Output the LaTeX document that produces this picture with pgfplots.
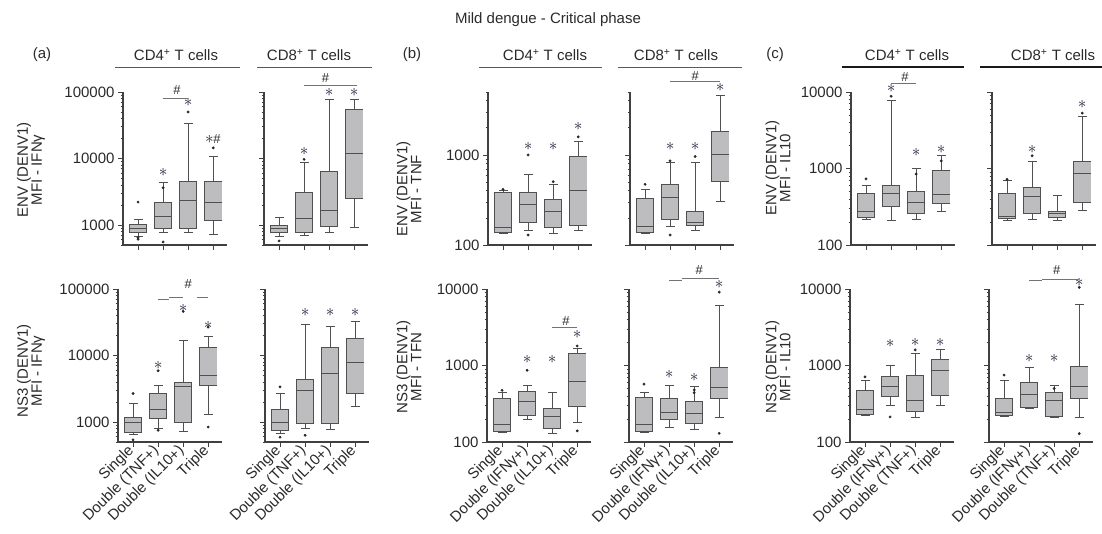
\documentclass[border=0pt]{standalone}
\usepackage{fontspec}
\setmainfont{Liberation Sans}
\usepackage{pgfplots}
\pgfplotsset{compat=1.18}

\definecolor{boxfill}{HTML}{BDBDC0}
\definecolor{boxline}{HTML}{505050}
\definecolor{axc}{HTML}{404040}
\definecolor{txt}{HTML}{2A2A2A}
\definecolor{starc}{HTML}{22223A}

\newcommand{\fs}{\fontsize{15}{15}\selectfont}

\pgfplotsset{
 panel/.style={
  scale only axis, width=104pt, height=153pt,
  xmin=0.4, xmax=4.55,
  axis x line*=bottom, axis y line*=left,
  axis line style={draw=axc, line width=1.1pt},
  tick align=outside, major tick length=5pt, minor tick length=2.5pt,
  tick style={draw=axc, line width=0.7pt},
  xtick={1,2,3,4}, xticklabels={},
  tick label style={font=\fs, text=txt},
  clip=false,
 },
 ra/.style={ymin=500, ymax=100000, ytick={1000,10000,100000},
   minor ytick={500,600,700,800,900,2000,3000,4000,5000,6000,7000,8000,9000,20000,30000,40000,50000,60000,70000,80000,90000}},
 rb/.style={ymin=100, ymax=5000, ytick={100,1000},
   minor ytick={200,300,400,500,600,700,800,900,2000,3000,4000,5000}},
 rc/.style={ymin=100, ymax=10000, ytick={100,1000,10000},
   minor ytick={200,300,400,500,600,700,800,900,2000,3000,4000,5000,6000,7000,8000,9000}},
 la/.style={yticklabels={1000,10000,100000}},
 lb/.style={yticklabels={100,1000}},
 lc/.style={yticklabels={100,1000,10000}},
 noy/.style={yticklabels={}},
 xl/.style={xticklabel style={rotate=45, anchor=east, inner sep=2pt}},
}

\newcommand{\bx}[7]{%
 \addplot[draw=boxline, line width=18pt, no marks] coordinates {(#1,#3)(#1,#5)};
 \addplot[draw=boxfill, line width=16.6pt, no marks] coordinates {(#1,#3)(#1,#5)};
 \addplot[draw=boxline, line width=0.7pt, mark=-, mark size=4.5pt, mark options={solid}] coordinates {(#1,#2)(#1,#3)};
 \addplot[draw=boxline, line width=0.7pt, mark=-, mark size=4.5pt, mark options={solid}] coordinates {(#1,#5)(#1,#6)};
 \addplot[only marks, mark=-, mark size=9pt, mark options={draw=boxline, line width=0.7pt}] coordinates {(#1,#3)(#1,#5)};
 \addplot[only marks, mark=-, mark size=9pt, mark options={draw=boxline, line width=1pt}] coordinates {(#1,#4)};
 \if\relax\detokenize{#7}\relax\else
 \addplot[only marks, mark=*, mark size=1.2pt, mark options={fill=black!85, draw=black!85}] coordinates {#7};
 \fi
}
\newcommand{\st}[2]{\node[font=\fontsize{16}{16}\selectfont, text=starc, inner sep=0pt] at (axis cs:#1,#2) {$\ast$};}
\newcommand{\hs}[2]{\node[font=\fontsize{13}{13}\selectfont, text=txt, inner sep=0pt] at (axis cs:#1,#2) {\#};}
\newcommand{\br}[3]{\draw[draw=black!55, line width=0.6pt] (axis cs:#1,#3) -- (axis cs:#2,#3);}

\begin{document}
\begin{tikzpicture}
% ---------- (a) top CD4
\begin{axis}[ymode=log, panel, ra, la, at={(123pt,288pt)}, anchor=south west]
\bx{1}{668}{767}{881}{1023}{1216}{(1,2213)(1,645)(1,610)}
\bx{2}{767}{881}{1334}{2213}{4410}{(2,3630)(2,556)}
\bx{3}{767}{881}{2371}{4570}{34276}{(3,50000)}
\bx{4}{724}{1175}{2213}{4570}{10840}{(4,14450)}
\st{2}{6100} \st{3}{70000} \st{3.85}{19300} \hs{4.15}{19300}
\br{2}{3}{79400} \hs{2.55}{108000}
\end{axis}
% ---------- (a) top CD8
\begin{axis}[ymode=log, panel, ra, noy, at={(264pt,288pt)}, anchor=south west]
\bx{1}{684}{785}{881}{990}{1288}{(1,575)}
\bx{2}{700}{785}{1259}{3126}{8610}{(2,9700)}
\bx{3}{767}{944}{1679}{6457}{76700}{}
\bx{4}{912}{2483}{11885}{54330}{76700}{}
\st{2}{12900} \st{3}{100000} \st{4}{100000}
\br{2}{4.1}{128000} \hs{2.85}{160000}
\end{axis}
% ---------- (a) bottom CD4
\begin{axis}[ymode=log, panel, ra, la, xl, at={(118pt,91pt)}, anchor=south west,
  xticklabels={Single, Double (TNF+), Double (IL10+), Triple}]
\bx{1}{650}{707}{977}{1190}{1937}{(1,2680)(1,540)}
\bx{2}{793}{1150}{1554}{2740}{3580}{(2,5900)(2,750)}
\bx{3}{731}{1000}{3390}{3890}{17140}{(3,46000)}
\bx{4}{1306}{3580}{5070}{13280}{19300}{(4,840)(4,26800)}
\st{2}{7180} \st{3}{51600} \st{4}{28500}
\br{2}{2.45}{70600} \br{2.45}{3}{75800} \br{3.55}{4}{75800} \hs{3.2}{117000}
\end{axis}
% ---------- (a) bottom CD8
\begin{axis}[ymode=log, panel, ra, noy, xl, at={(265pt,91pt)}, anchor=south west,
  xticklabels={Single, Double (TNF+), Double (IL10+), Triple}]
\bx{1}{682}{748}{966}{1535}{2680}{(1,3380)(1,590)}
\bx{2}{793}{944}{3010}{4370}{28900}{(2,630)}
\bx{3}{766}{965}{5370}{13280}{27900}{}
\bx{4}{1690}{2680}{7770}{17800}{32400}{}
\st{2}{44000} \st{3}{44000} \st{4}{44000}
\end{axis}
% ---------- (b) top CD4
\begin{axis}[ymode=log, panel, rb, lb, at={(488pt,288pt)}, anchor=south west]
\bx{1}{133}{138}{156}{382}{400}{(1,415)}
\bx{2}{147}{177}{283}{382}{610}{(2,129)(2,1000)}
\bx{3}{135}{157}{235}{325}{472}{(3,505)}
\bx{4}{144}{164}{398}{977}{1430}{(4,1590)}
\st{2}{1230} \st{3}{1230} \st{4}{2050}
\end{axis}
% ---------- (b) top CD8
\begin{axis}[ymode=log, panel, rb, noy, at={(630pt,288pt)}, anchor=south west]
\bx{1}{135}{138}{160}{330}{415}{(1,472)}
\bx{2}{160}{193}{339}{472}{822}{(2,129)(2,860)}
\bx{3}{147}{167}{177}{239}{822}{(3,960)}
\bx{4}{308}{514}{1000}{1850}{4640}{}
\st{2}{1230} \st{3}{1230} \st{4}{5640}
\br{2}{4}{6530} \hs{3}{7570}
\end{axis}
% ---------- (b) bottom CD4
\begin{axis}[ymode=log, panel, rc, lc, xl, at={(487pt,91pt)}, anchor=south west,
  xticklabels={Single, Double (IFNγ+), Double (IL10+), Triple}]
\bx{1}{132}{136}{168}{377}{441}{(1,474)}
\bx{2}{196}{224}{336}{464}{553}{(2,865)}
\bx{3}{130}{151}{218}{274}{441}{}
\bx{4}{181}{291}{627}{1440}{1700}{(4,140)(4,1800)}
\st{2}{1200} \st{3}{1200} \st{4}{2540}
\br{3}{4}{3160} \hs{3.55}{3800}
\end{axis}
% ---------- (b) bottom CD8
\begin{axis}[ymode=log, panel, rc, noy, xl, at={(629pt,91pt)}, anchor=south west,
  xticklabels={Single, Double (IFNγ+), Double (IL10+), Triple}]
\bx{1}{132}{136}{168}{385}{441}{(1,571)}
\bx{2}{156}{196}{246}{377}{553}{}
\bx{3}{147}{177}{234}{336}{526}{(3,441)(3,480)}
\bx{4}{207}{373}{509}{948}{6140}{(4,130)(4,9100)}
\st{2}{757} \st{3}{700} \st{4}{11500}
\br{2}{2.5}{13000} \br{2.5}{4}{13800} \hs{3.2}{17800}
\end{axis}
% ---------- (c) top CD4
\begin{axis}[ymode=log, panel, rc, lc, at={(851pt,288pt)}, anchor=south west]
\bx{1}{217}{228}{270}{477}{611}{(1,731)}
\bx{2}{211}{323}{477}{611}{7730}{(2,8800)}
\bx{3}{217}{257}{357}{501}{1000}{(3,848)}
\bx{4}{278}{347}{454}{937}{1466}{(4,1260)}
\st{2}{11000} \st{3}{1620} \st{4}{1750}
\br{2}{3}{13100} \hs{2.55}{15900}
\end{axis}
% ---------- (c) top CD8
\begin{axis}[ymode=log, panel, rc, noy, at={(992pt,288pt)}, anchor=south west]
\bx{1}{211}{222}{238}{477}{695}{(1,720)}
\bx{2}{217}{257}{431}{570}{1227}{(2,1466)}
\bx{3}{211}{228}{257}{278}{444}{}
\bx{4}{284}{364}{865}{1227}{4840}{(4,5300)}
\st{2}{1750} \st{4}{6850}
\end{axis}
% ---------- (c) bottom CD4
\begin{axis}[ymode=log, panel, rc, lc, xl, at={(850pt,91pt)}, anchor=south west,
  xticklabels={Single, Double (IFNγ+), Double (TNF+), Triple}]
\bx{1}{224}{231}{266}{477}{645}{(1,710)}
\bx{2}{302}{398}{527}{713}{1016}{(2,213)}
\bx{3}{213}{248}{345}{750}{1445}{(3,1600)}
\bx{4}{302}{402}{871}{1217}{1650}{}
\st{2}{1950} \st{3}{2000} \st{4}{2000}
\end{axis}
% ---------- (c) bottom CD8
\begin{axis}[ymode=log, panel, rc, noy, xl, at={(989pt,91pt)}, anchor=south west,
  xticklabels={Single, Double (IFNγ+), Double (TNF+), Triple}]
\bx{1}{217}{224}{240}{371}{645}{(1,750)}
\bx{2}{274}{282}{418}{595}{935}{}
\bx{3}{213}{219}{345}{440}{554}{(3,500)}
\bx{4}{213}{371}{527}{966}{6220}{(4,129)(4,10500)}
\st{2}{1240} \st{3}{1240} \st{4}{12000}
\br{2}{2.5}{12800} \br{2.5}{4}{13500} \hs{3.1}{17600}
\end{axis}

% ---------- titles, headers, y labels
\begin{scope}[every node/.style={font=\fs, text=txt}]
\node at (548pt,513pt) {Mild dengue - Critical phase};
\node at (42pt,478pt) {(a)};
\node at (412pt,478pt) {(b)};
\node at (775pt,478pt) {(c)};
\node at (176pt,478pt) {CD4\textsuperscript{+} T cells};
\node at (309pt,478pt) {CD8\textsuperscript{+} T cells};
\node at (545pt,478pt) {CD4\textsuperscript{+} T cells};
\node at (676pt,478pt) {CD8\textsuperscript{+} T cells};
\node at (907pt,478pt) {CD4\textsuperscript{+} T cells};
\node at (1053pt,478pt) {CD8\textsuperscript{+} T cells};
\draw[draw=black!65, line width=0.9pt] (115pt,466pt) -- (240pt,466pt);
\draw[draw=black!65, line width=0.9pt] (257pt,466pt) -- (372pt,466pt);
\draw[draw=black!65, line width=0.9pt] (479pt,466pt) -- (602pt,466pt);
\draw[draw=black!65, line width=0.9pt] (618pt,466pt) -- (742pt,466pt);
\draw[draw=black!90, line width=2.4pt] (842pt,466pt) -- (964pt,466pt);
\draw[draw=black!90, line width=2.4pt] (980pt,466pt) -- (1102pt,466pt);
\end{scope}
\begin{scope}[every node/.style={font=\fontsize{15}{14}\selectfont, text=txt, rotate=90, align=center}]
\node at (31pt,363pt) {ENV (DENV1)\\MFI - IFNγ};
\node at (31pt,162pt) {NS3 (DENV1)\\MFI - IFNγ};
\node at (409pt,344pt) {ENV (DENV1)\\MFI - TNF};
\node at (409pt,166pt) {NS3 (DENV1)\\MFI - TFN};
\node at (778pt,365pt) {ENV (DENV1)\\MFI - IL10};
\node at (778pt,166pt) {NS3 (DENV1)\\MFI - IL10};
\end{scope}
\pgfresetboundingbox
\path[use as bounding box] (0pt,0pt) rectangle (1102pt,533pt);
\end{tikzpicture}
\end{document}
